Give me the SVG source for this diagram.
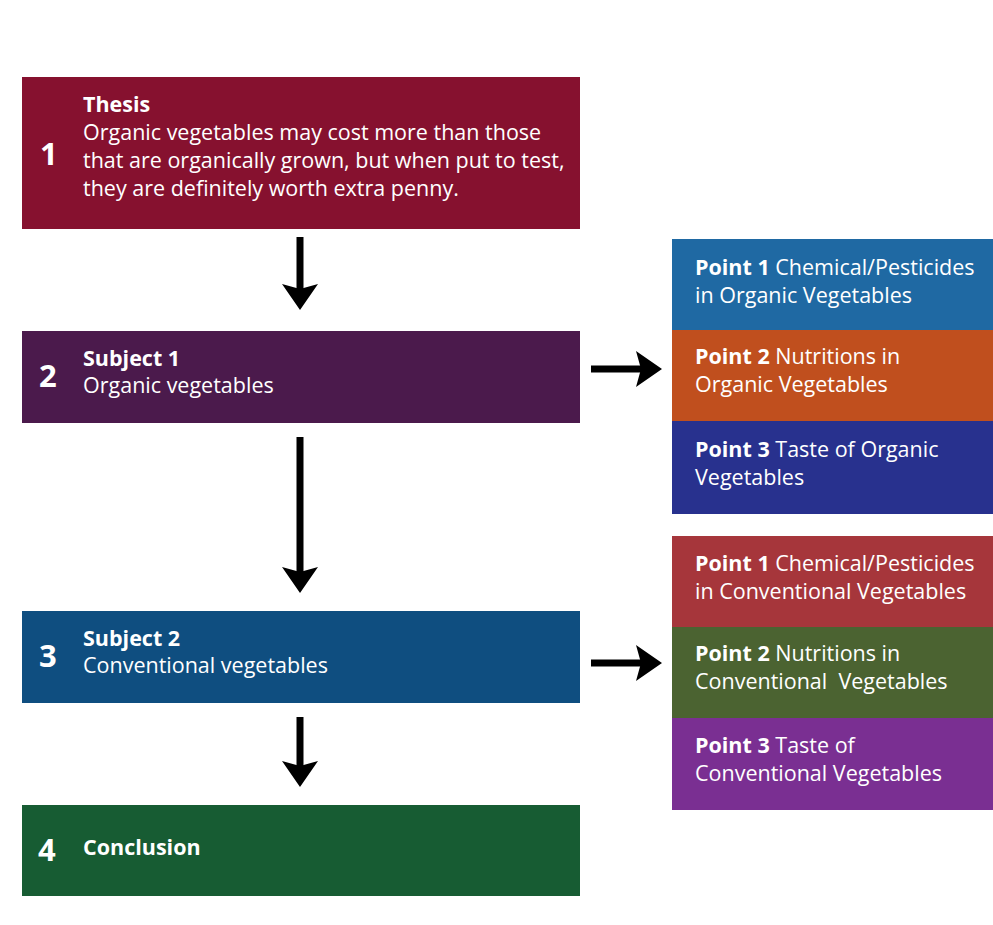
<svg xmlns="http://www.w3.org/2000/svg" width="993" height="925" viewBox="0 0 993 925">
<defs>
<style>
text{font-family:"Open Sans","Noto Sans","Liberation Sans",sans-serif;fill:#ffffff;}
.t{font-size:21.5px;}
.b{font-weight:bold;}
.num{font-size:31px;font-weight:bold;}
.shaft{stroke:#000;stroke-width:7;fill:none;}
</style>
<marker id="ah" markerUnits="userSpaceOnUse" markerWidth="26" markerHeight="36" viewBox="0 0 26 36" refX="14" refY="18" orient="auto">
<path d="M0,0 L26,18 L0,36 L5,18 z" fill="#000"/>
</marker>
</defs>
<rect width="993" height="925" fill="#ffffff"/>

<g id="node-thesis">
<rect x="22" y="77" width="558" height="152" fill="#86112f"/>
<text class="num" x="40" y="165">1</text>
<text class="t" x="83" y="112"><tspan class="b">Thesis</tspan><tspan x="83" y="140">Organic vegetables may cost more than those</tspan><tspan x="83" y="168">that are organically grown, but when put to test,</tspan><tspan x="83" y="196">they are definitely worth extra penny.</tspan></text>
</g>

<g id="node-subject1">
<rect x="22" y="331" width="558" height="92" fill="#4b1a4c"/>
<text class="num" x="39" y="387">2</text>
<text class="t" x="83" y="366"><tspan class="b">Subject 1</tspan><tspan x="83" y="393">Organic vegetables</tspan></text>
</g>

<g id="node-subject2">
<rect x="22" y="611" width="558" height="92" fill="#0f4e80"/>
<text class="num" x="39" y="667">3</text>
<text class="t" x="83" y="646"><tspan class="b">Subject 2</tspan><tspan x="83" y="673">Conventional vegetables</tspan></text>
</g>

<g id="node-conclusion">
<rect x="22" y="805" width="558" height="91" fill="#175c33"/>
<text class="num" x="38" y="861">4</text>
<text class="t b" x="83" y="855">Conclusion</text>
</g>

<g id="node-o-point1">
<rect x="672" y="239" width="321" height="91" fill="#1f69a3"/>
<text class="t" x="695" y="275"><tspan class="b">Point 1</tspan> Chemical/Pesticides<tspan x="695" y="303">in Organic Vegetables</tspan></text>
</g>
<g id="node-o-point2">
<rect x="672" y="330" width="321" height="91" fill="#c04f1e"/>
<text class="t" x="695" y="364"><tspan class="b">Point 2</tspan> Nutritions in<tspan x="695" y="392">Organic Vegetables</tspan></text>
</g>
<g id="node-o-point3">
<rect x="672" y="421" width="321" height="93" fill="#28318e"/>
<text class="t" x="695" y="457"><tspan class="b">Point 3</tspan> Taste of Organic<tspan x="695" y="485">Vegetables</tspan></text>
</g>

<g id="node-c-point1">
<rect x="672" y="536" width="321" height="91" fill="#a6363b"/>
<text class="t" x="695" y="571"><tspan class="b">Point 1</tspan> Chemical/Pesticides<tspan x="695" y="599">in Conventional Vegetables</tspan></text>
</g>
<g id="node-c-point2">
<rect x="672" y="627" width="321" height="91" fill="#4b6331"/>
<text class="t" x="695" y="661"><tspan class="b">Point 2</tspan> Nutritions in<tspan x="695" y="689" xml:space="preserve">Conventional  Vegetables</tspan></text>
</g>
<g id="node-c-point3">
<rect x="672" y="718" width="321" height="92" fill="#7a2f92"/>
<text class="t" x="695" y="753"><tspan class="b">Point 3</tspan> Taste of<tspan x="695" y="781">Conventional Vegetables</tspan></text>
</g>

<g id="connectors">
<line class="shaft" x1="300" y1="237" x2="300" y2="298" marker-end="url(#ah)"/>
<line class="shaft" x1="300" y1="437" x2="300" y2="581" marker-end="url(#ah)"/>
<line class="shaft" x1="300" y1="717" x2="300" y2="775" marker-end="url(#ah)"/>
<line class="shaft" x1="591" y1="369" x2="650" y2="369" marker-end="url(#ah)"/>
<line class="shaft" x1="591" y1="663" x2="650" y2="663" marker-end="url(#ah)"/>
</g>
</svg>
